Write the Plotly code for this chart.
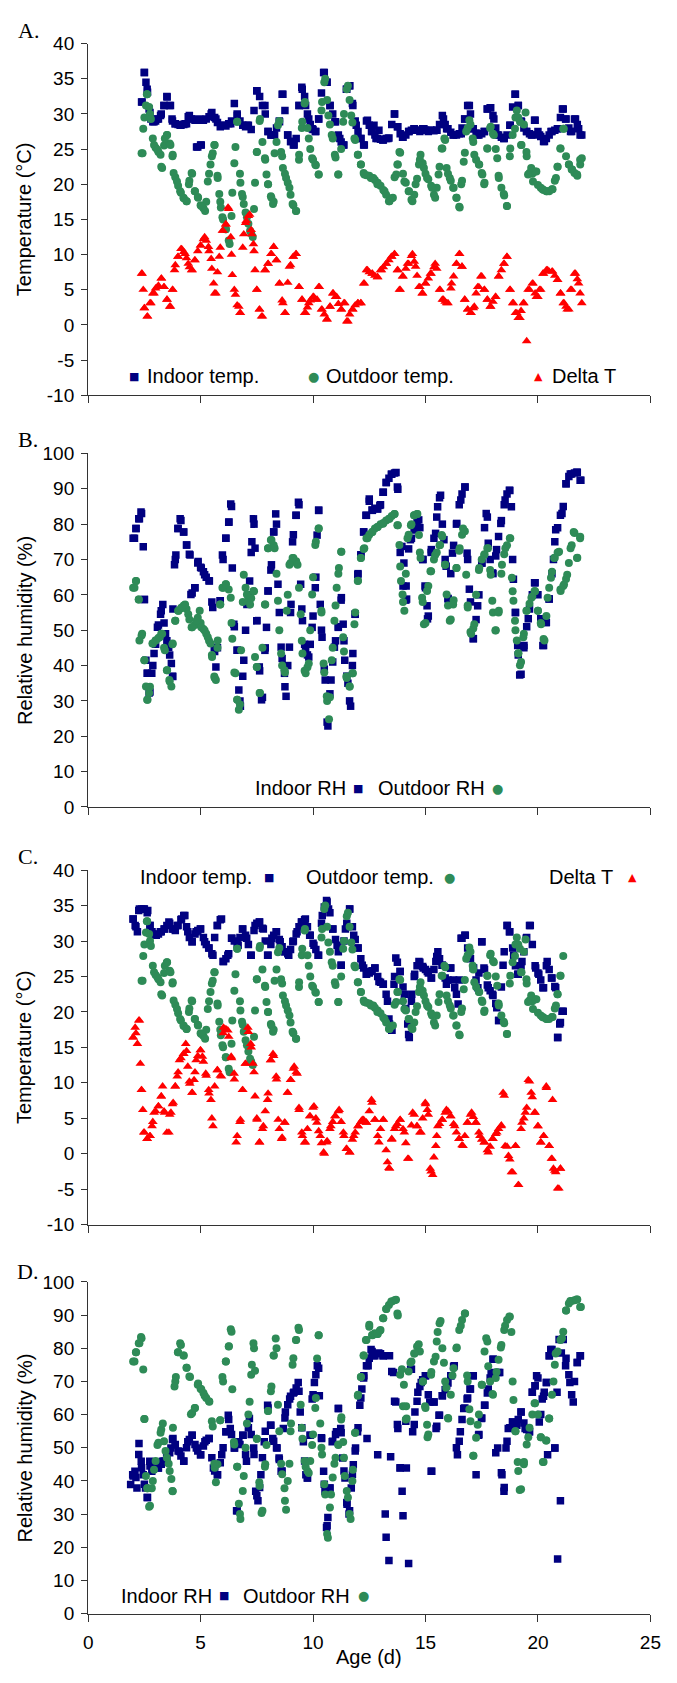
import plotly.graph_objects as go

# ---------------- data ----------------
# regular readings: one every 3 h, day 2.0 ... day 21.875 (8 per day)
age = [2 + i / 8 for i in range(160)]

x_ticks = [0, 5, 10, 15, 20, 25]
x_ticklabels = ["0", "5", "10", "15", "20", "25"]
temp_ticks = [-10, -5, 0, 5, 10, 15, 20, 25, 30, 35, 40]
temp_ticklabels = ["-10", "-5", "0", "5", "10", "15", "20", "25", "30", "35", "40"]
rh_ticks = [0, 10, 20, 30, 40, 50, 60, 70, 80, 90, 100]
rh_ticklabels = ["0", "10", "20", "30", "40", "50", "60", "70", "80", "90", "100"]

N = None

# outdoor temperature (same outdoor series in panels A and C)
outdoor_temp = [
    N, N, N, 24.4, 29.5, 32.8, 30.0, 26.5,
    25.2, 24.6, 22.5, 25.5, 27.0, 25.8, 24.0, 21.0,
    19.8, 18.8, 18.0, 17.6, 20.5, 21.5, 19.0, 18.2,
    17.0, 16.6, 17.5, 21.5, 24.0, 25.6, 21.2, 17.5,
    15.0, 13.6, 12.0, 15.5, 23.0, 28.9, 21.5, 18.2,
    16.0, 14.4, 13.0, 16.5, 24.6, 29.0, 26.0, 23.5,
    20.0, 18.3, 17.5, 26.0, 29.0, 24.0, 21.5, 20.2,
    18.5, 17.0, 16.2, 23.5, 28.0, 31.5, 28.0, 25.0,
    23.5, 22.7, 21.4, 30.5, 34.5, 32.0, 28.5, 26.5,
    23.8, 21.4, 25.0, 30.0, 33.5, 32.0, 28.8, 26.3,
    24.2, 22.8, 21.6, 21.3, 21.2, 20.9, 20.6, 20.2,
    19.8, 19.2, 18.5, 17.6, 18.0, 21.0, 22.8, 24.5,
    21.5, 20.2, 19.0, 17.8, 18.5, 20.8, 23.5, 23.0,
    21.5, 20.7, 19.8, 18.5, 19.5, 22.5, 25.1, 26.3,
    21.5, 20.5, 19.5, 18.1, 16.8, 20.5, 24.5, 28.0,
    28.5, 26.0, 23.5, 22.8, 21.6, 20.2, 25.1, 28.0,
    27.2, 25.0, 21.2, 19.5, 18.4, 16.9, 24.0, 27.0,
    29.5, 29.5, 25.6, 28.5, 24.0, 21.6, 21.5, 21.8,
    19.9, 19.5, 19.2, 19.0, 19.0, 19.3, 20.5, 22.5,
    25.1, 27.9, 24.0, 22.8, 22.1, 21.6, 21.2, 23.5,
]

# panel A indoor temperature
indoor_temp_a = [
    N, N, N, 31.7, 35.9, 33.5, 30.2, 28.9,
    29.0, 29.3, 30.0, 31.2, 32.5, 31.2, 29.0, 28.6,
    28.5, 28.4, 28.5, 28.6, 29.8, 29.3, 29.1, 25.3,
    25.6, 29.1, 29.3, 29.6, 30.2, 29.5, 28.8, 28.2,
    28.4, 28.3, 28.6, 29.0, 31.5, 30.0, 29.0, 28.4,
    28.2, 28.4, 27.8, 30.5, 33.3, 32.5, 31.2, 30.0,
    27.5, 27.0, 27.0, 28.0, 29.0, 32.8, 30.5, 27.0,
    26.1, 25.6, 26.5, 31.2, 33.8, 32.5, 30.0, 28.5,
    27.8, 27.5, 29.3, 33.0, 35.9, 34.5, 31.2, 30.0,
    28.9, 27.0, 26.0, 25.6, 33.5, 34.0, 31.5, 29.0,
    27.5, 26.5, 25.6, 29.0, 28.4, 27.5, 27.0, 26.5,
    26.4, 26.3, 26.5, 26.6, 28.5, 30.0, 28.2, 27.2,
    26.7, 27.0, 27.5, 27.7, 27.9, 27.7, 27.5, 27.9,
    27.7, 27.5, 27.7, 27.6, 27.7, 28.5, 29.8, 28.5,
    27.9, 27.4, 27.0, 27.0, 27.2, 28.0, 29.3, 31.2,
    30.0, 27.9, 27.3, 27.0, 27.2, 27.5, 30.7, 30.9,
    29.8, 28.0, 27.0, 26.7, 26.5, 27.0, 28.4, 31.0,
    32.8, 31.2, 29.0, 28.0, 27.5, 27.2, 27.0, 29.1,
    27.5, 26.8, 26.1, 26.5, 27.0, 27.5, 27.7, 27.9,
    29.5, 30.7, 29.3, 28.0, 27.5, 29.3, 28.5, 27.0,
]

# panel A delta T
delta_t_a = [
    N, N, N, 7.3, 2.4, 1.2, 3.1, 4.5,
    5.2, 5.6, 6.6, 5.4, 3.6, 2.6, 5.0, 8.5,
    9.7, 10.8, 10.4, 9.5, 8.2, 7.8, 9.2, 10.5,
    11.3, 12.2, 12.0, 10.5, 8.0, 4.5, 7.5, 11.0,
    13.4, 14.3, 16.5, 10.0, 5.0, 2.8, 1.7, 11.0,
    14.5, 15.5, 13.5, 10.5, 5.0, 2.2, 1.2, 7.8,
    8.7, 10.1, 11.1, 9.2, 5.9, 3.5, 1.7, 6.0,
    8.5, 9.7, 10.1, 5.4, 3.6, 1.7, 2.5, 3.5,
    4.0, 3.6, 5.4, 2.2, 1.5, 0.8, 2.6, 4.5,
    4.0, 3.0, 2.2, 3.1, 0.5, 1.5, 2.2, 2.8,
    3.1, 3.1, 5.9, 7.8, 7.5, 7.3, 7.0, 6.8,
    7.8, 8.2, 8.7, 9.2, 9.7, 10.1, 7.8, 5.0,
    6.9, 8.0, 8.7, 9.8, 9.0, 7.0, 5.4, 4.5,
    5.9, 6.6, 7.3, 8.2, 8.0, 5.0, 3.6, 3.3,
    3.1, 5.2, 6.9, 8.7, 10.1, 8.3, 3.6, 2.2,
    1.7, 2.4, 4.5, 5.4, 6.9, 5.0, 3.6, 2.6,
    3.3, 4.0, 6.9, 7.8, 8.7, 9.7, 5.0, 3.1,
    1.7, 1.0, 2.0, 3.1, -2.3, 5.0, 5.9, 4.5,
    4.0, 5.0, 7.3, 7.8, 7.6, 7.6, 7.0, 6.4,
    4.5, 3.1, 2.6, 2.2, 5.0, 7.3, 6.5, 4.5,
]

# panel B blue series (labelled "Indoor RH"; same values as panel D outdoor RH)
rh_b_blue = [
    76.0, 78.8, 81.5, 83.0, 58.7, 37.8, 32.5, 40.0,
    46.0, 51.5, 55.5, 52.0, 47.0, 43.0, 37.0, 70.0,
    78.8, 81.0, 77.8, 74.1, 71.5, 60.5, 62.0, 69.0,
    67.8, 66.5, 65.0, 64.0, 58.0, 44.0, 45.0, 58.3,
    70.0, 76.0, 80.5, 85.0, 51.0, 44.3, 30.0, 37.0,
    50.0, 60.0, 72.0, 80.0, 52.7, 38.5, 31.0, 45.0,
    61.1, 67.0, 77.8, 80.0, 55.0, 42.0, 34.0, 40.0,
    55.0, 77.0, 82.5, 85.5, 56.0, 46.0, 43.0, 46.0,
    54.0, 65.0, 83.9, 50.0, 39.0, 24.0, 32.0, 41.0,
    47.0, 51.0, 58.5, 47.0, 37.0, 30.0, 40.0, 54.5,
    66.0, 71.3, 77.8, 82.5, 86.5, 84.0, 84.5, 84.3,
    85.5, 89.0, 91.8, 93.0, 94.1, 94.5, 90.5, 72.0,
    62.5, 58.5, 73.0, 76.0, 78.4, 80.5, 79.0, 70.0,
    62.0, 54.0, 72.0, 76.0, 82.0, 87.5, 80.0, 70.0,
    59.0, 66.0, 74.0, 80.0, 85.5, 88.5, 90.5, 70.0,
    58.0, 47.6, 53.0, 60.0, 69.0, 79.0, 82.0, 70.0,
    66.0, 71.0, 76.5, 81.0, 85.5, 88.5, 89.5, 70.0,
    55.0, 43.0, 37.5, 45.0, 51.0, 56.0, 60.0, 63.4,
    60.0, 53.2, 45.7, 52.2, 58.8, 66.0, 75.0, 79.0,
    82.5, 85.0, 91.4, 93.5, 94.2, 94.5, 94.7, 92.4,
]

# panel B green series (labelled "Outdoor RH")
rh_b_green = [
    62.0, 63.9, 58.7, 48.5, 41.5, 30.3, 34.0, 46.2,
    47.1, 47.8, 49.0, 45.0, 38.7, 35.5, 46.0, 52.7,
    55.5, 56.2, 57.0, 56.0, 53.0, 50.8, 51.5, 53.5,
    52.0, 50.3, 49.0, 47.0, 43.0, 36.5, 45.0, 57.3,
    62.0, 63.0, 61.5, 52.0, 38.0, 30.3, 29.0, 58.0,
    62.0, 58.5, 59.0, 61.0, 39.6, 32.2, 45.0, 57.3,
    73.2, 75.5, 74.0, 66.0, 50.0, 40.0, 38.0, 60.0,
    69.0, 70.4, 69.5, 62.0, 47.0, 38.5, 39.5, 50.0,
    65.0, 75.0, 78.8, 55.0, 38.0, 30.0, 31.0, 45.0,
    57.0, 66.0, 72.2, 44.0, 36.5, 34.1, 37.8, 55.0,
    64.0, 70.4, 73.0, 76.0, 77.0, 77.8, 78.8, 79.2,
    80.0, 80.3, 81.0, 81.5, 82.3, 82.9, 79.7, 68.0,
    58.0, 66.0, 77.0, 80.0, 82.5, 82.9, 72.0, 58.0,
    52.0, 62.5, 66.7, 70.0, 72.0, 74.0, 76.5, 68.5,
    57.0, 53.0, 58.5, 67.6, 72.5, 77.0, 78.0, 57.0,
    49.5, 50.5, 60.0, 67.0, 70.0, 71.5, 73.2, 67.0,
    55.0, 50.0, 55.0, 66.0, 71.5, 74.0, 76.0, 61.0,
    50.0, 43.5, 41.0, 49.0, 55.5, 57.5, 59.5, 61.0,
    55.5, 52.0, 47.5, 54.0, 62.0, 66.5, 70.5, 72.0,
    61.5, 62.5, 64.5, 69.0, 74.0, 77.5, 70.5, 76.0,
]

# panel C indoor temperature
indoor_temp_c = [
    33.1, 32.0, 34.3, 34.5, 34.5, 34.0, 32.2, 31.0,
    30.8, 31.0, 31.3, 31.7, 32.2, 32.5, 31.7, 31.5,
    32.2, 33.0, 33.6, 32.0, 30.5, 29.9, 31.0, 31.5,
    31.7, 30.5, 29.5, 29.0, 28.2, 30.5, 32.2, 33.0,
    27.1, 27.5, 28.2, 30.4, 30.0, 29.5, 30.5, 31.7,
    30.8, 29.5, 28.0, 31.5, 32.5, 32.7, 31.8, 30.0,
    28.0, 29.5, 30.8, 31.3, 30.2, 29.2, 28.5, 28.2,
    28.8, 30.0, 31.0, 32.0, 32.7, 33.0, 32.0, 30.8,
    29.7, 28.8, 28.0, 32.5, 34.8, 35.5, 34.0, 31.7,
    30.2, 28.5, 26.6, 30.0, 32.5, 34.5, 32.0, 30.2,
    29.0, 27.5, 26.2, 25.3, 25.5, 25.8, 26.2, 25.0,
    24.2, 23.9, 22.5, 19.0, 17.4, 25.0, 27.0, 25.7,
    23.5, 20.5, 16.8, 21.5, 25.0, 26.5, 27.0, 26.4,
    26.0, 25.5, 24.8, 26.0, 27.8, 27.5, 26.6, 24.8,
    24.5, 26.2, 24.5, 22.5, 24.5, 30.4, 30.8, 29.0,
    27.5, 26.2, 24.5, 25.5, 29.9, 26.0, 23.8, 23.0,
    22.3, 21.2, 18.8, 23.5, 28.5, 32.2, 31.3, 29.0,
    26.5, 25.3, 26.5, 28.5, 30.5, 32.2, 29.5, 26.5,
    25.5, 24.5, 23.4, 26.5, 26.0, 24.8, 23.6, 16.4,
    18.5, 20.1, N, N, N, N, N, N,
]

# panel C delta T
delta_t_c = [
    16.4, 17.0, 18.8, 9.0, 3.0, 2.1, 2.5, 4.5,
    6.0, 6.7, 8.1, 6.0, 3.0, 5.5, 7.0, 9.5,
    11.5, 13.5, 14.1, 14.5, 10.2, 8.6, 11.5, 13.8,
    14.6, 13.0, 11.0, 8.5, 5.0, 9.5, 11.8, 11.0,
    17.0, 17.6, 16.5, 13.5, 10.5, 2.5, 4.5, 9.0,
    12.7, 17.2, 15.0, 11.5, 5.0, 1.6, 3.5, 6.0,
    8.5, 13.2, 13.8, 10.5, 3.5, 2.3, 4.4, 8.6,
    10.4, 12.0, 11.5, 6.5, 3.0, 1.6, 3.5, 5.3,
    6.5, 5.0, 3.2, 1.5, 0.0, 1.8, 3.5, 4.5,
    5.3, 6.0, 4.5, 2.5, 0.7, 0.2, 2.0, 3.0,
    3.9, 4.5, 4.8, 4.4, 6.0, 7.2, 4.8, 2.5,
    3.5, 4.8, 0.5, -2.0, 2.0, 3.5, 4.2, 4.8,
    3.5, 1.5, -0.7, 4.0, 5.5, 3.9, 3.0, 5.0,
    7.0, 5.5, -2.5, -0.5, 2.5, 4.2, 4.8, 5.8,
    6.0, 5.3, 4.2, 3.0, 2.1, 1.2, 2.5, 4.4,
    5.5, 5.2, 4.4, 3.0, 2.0, 1.6, 0.5, 1.0,
    2.1, 2.8, 3.5, 4.0, 8.2, 1.0, -0.8, -2.6,
    1.1, -4.4, 3.5, 5.0, 6.5, 10.2, 8.0, 5.8,
    3.9, 1.6, 2.5, 9.3, 1.1, -0.7, -2.4, -4.9,
    -2.1, N, N, N, N, N, N, N,
]

# panel D indoor RH
indoor_rh_d = [
    41.5, 41.0, 48.0, 44.0, 39.0, 35.0, 44.5, 43.5,
    44.5, 43.9, 45.0, 46.0, 47.0, 48.5, 52.5, 51.0,
    49.0, 47.5, 46.0, 50.0, 52.5, 53.8, 51.0, 49.0,
    47.9, 50.5, 52.3, 52.8, 47.0, 43.0, 41.9, 45.5,
    50.0, 54.8, 58.5, 54.0, 49.9, 31.0, 51.0, 53.8,
    48.0, 56.0, 54.0, 48.0, 35.5, 38.0, 47.0, 55.0,
    62.0, 56.8, 52.0, 50.0, 46.5, 43.0, 59.0, 63.0,
    65.5, 66.5, 68.0, 67.0, 56.0, 46.0, 40.9, 53.8,
    66.0, 72.0, 74.0, 53.0, 39.0, 26.5, 37.9, 52.0,
    54.0, 61.8, 54.5, 43.0, 33.5, 31.0, 42.0, 49.0,
    56.0, 65.0, 71.0, 74.7, 77.0, 79.0, 77.7, 47.9,
    78.3, 77.7, 23.0, 16.0, 73.0, 64.0, 57.0, 44.0,
    29.5, 58.0, 15.1, 73.7, 57.0, 64.0, 68.5, 70.5,
    71.7, 66.0, 42.9, 63.8, 56.5, 59.8, 65.7, 67.5,
    69.5, 71.7, 74.5, 50.0, 52.0, 58.5, 62.0, 65.0,
    67.7, 71.7, 41.9, 54.0, 59.0, 62.8, 66.5, 71.0,
    76.7, 48.5, 72.7, 42.5, 38.0, 52.0, 56.0, 57.8,
    57.0, 58.5, 60.8, 57.5, 55.5, 54.8, 66.7, 68.7,
    71.0, 60.0, 65.5, 69.7, 77.7, 79.6, 49.9, 16.5,
    34.0, 82.6, 77.0, 72.0, 66.0, 70.0, 75.7, 77.7,
]

# ---- additional individual readings (age, value) between the 3-hourly ones ----
outdoor_temp_more = [
    (2.42, 24.4), (2.45, 27.9), (2.57, 31.2), (2.61, 32.8), (2.71, 31.0), (2.79, 29.3),
    (2.93, 25.6), (3.08, 24.9), (3.22, 24.2), (3.29, 22.3), (3.41, 26.5), (3.51, 27.0),
    (3.66, 25.6), (3.76, 24.2), (3.80, 21.6), (3.95, 20.4), (4.09, 19.0), (4.24, 18.1),
    (4.38, 17.6), (4.48, 20.0), (4.60, 21.6), (4.74, 19.0), (4.89, 18.1), (5.03, 16.9),
    (5.20, 16.2), (5.32, 20.4), (5.44, 22.8), (5.54, 24.4), (5.61, 25.6), (5.76, 20.9),
    (5.83, 18.6), (5.90, 16.7), (5.97, 15.3), (6.12, 13.6), (6.29, 11.5), (6.41, 18.8),
    (6.55, 25.3), (6.63, 28.9), (6.77, 20.2), (6.84, 18.6), (6.92, 17.2), (7.06, 15.3),
    (7.20, 13.4), (7.32, 12.5), (7.42, 20.2), (7.50, 24.6), (7.64, 29.3), (7.86, 23.7),
    (7.93, 21.4), (8.00, 20.0), (8.15, 18.1), (8.22, 17.2), (8.29, 24.4), (8.44, 28.4),
    (8.58, 24.6), (8.66, 22.3), (8.80, 20.9), (8.95, 19.5), (9.09, 17.2), (9.24, 16.2),
    (9.38, 24.2), (9.52, 28.9), (9.64, 31.7), (9.81, 26.5), (9.96, 23.7), (10.10, 22.8),
    (10.25, 21.4), (10.40, 31.7), (10.54, 35.0), (10.68, 29.8), (10.83, 27.0), (10.97, 24.2),
    (11.12, 21.4), (11.34, 28.9), (11.55, 34.0), (11.70, 29.8), (11.84, 26.5), (11.99, 24.2),
    (12.13, 22.8), (12.28, 21.4), (12.57, 20.9), (12.86, 20.0), (12.68, 20.9), (13.18, 19.0),
    (13.40, 17.6), (13.55, 18.1), (13.70, 21.4), (13.77, 22.8), (13.84, 24.6), (14.06, 20.4),
    (14.27, 19.0), (14.42, 17.6), (14.56, 20.0), (14.71, 22.8), (14.78, 24.2), (14.93, 22.3),
    (15.07, 20.9), (15.29, 19.5), (15.43, 18.1), (15.58, 21.4), (15.72, 25.1), (15.84, 26.5),
    (15.94, 22.3), (16.08, 20.9), (16.23, 19.5), (16.38, 18.1), (16.52, 16.7), (16.59, 20.0),
    (16.70, 23.2), (16.81, 27.5), (16.95, 29.1), (17.10, 26.5), (17.17, 24.2), (17.39, 22.8),
    (17.53, 21.4), (17.61, 20.0), (17.75, 25.1), (17.90, 28.2), (18.04, 27.0), (18.19, 23.7),
    (18.26, 20.9), (18.48, 18.6), (18.62, 16.9), (18.77, 25.1), (18.98, 27.9), (19.06, 30.5),
    (19.20, 28.9), (19.27, 25.6), (19.45, 30.2), (19.49, 24.6), (19.56, 21.4), (19.70, 22.3),
    (19.78, 20.4), (19.93, 21.8), (20.20, 19.3), (20.40, 19.0), (20.65, 19.3), (20.80, 20.9),
    (20.87, 22.5), (21.00, 25.1), (21.15, 27.9), (21.38, 22.8), (21.52, 22.1), (21.74, 21.4),
    (21.88, 22.8), (21.95, 23.7),
]

indoor_temp_a_more = [
    (2.40, 31.7), (2.50, 35.9), (2.57, 34.5), (2.64, 33.1), (2.71, 30.7), (2.79, 29.3),
    (2.93, 28.9), (3.08, 29.3), (3.22, 29.8), (3.37, 31.2), (3.51, 32.4), (3.66, 31.2),
    (3.73, 29.3), (3.87, 28.6), (4.09, 28.4), (4.31, 28.6), (4.45, 29.6), (4.60, 29.3),
    (4.82, 29.1), (4.96, 29.3), (5.10, 29.1), (5.47, 30.0), (5.68, 29.3), (4.82, 25.3),
    (5.03, 25.6), (6.05, 28.4), (6.34, 28.6), (6.63, 29.8), (7.06, 28.4), (7.50, 33.3),
    (7.86, 31.2), (8.00, 27.5), (8.15, 27.0), (8.29, 27.0), (8.51, 28.9), (8.66, 32.8),
    (8.87, 27.0), (9.02, 26.1), (9.16, 25.6), (9.38, 31.2), (9.52, 33.5), (9.67, 31.2),
    (9.81, 29.3), (9.96, 27.9), (10.10, 27.5), (10.25, 29.3), (10.47, 35.9), (10.61, 34.5),
    (10.76, 31.2), (10.97, 28.9), (11.19, 26.5), (11.34, 25.6), (11.48, 33.5), (11.63, 34.0),
    (11.77, 31.2), (11.92, 28.4), (12.13, 26.5), (12.28, 25.6), (12.42, 29.1), (12.71, 28.4),
    (12.93, 27.7), (12.60, 27.5), (12.80, 26.5), (13.10, 26.3), (13.33, 26.5), (13.62, 30.0),
    (13.77, 28.2), (13.98, 26.7), (14.27, 27.5), (14.49, 27.9), (14.64, 27.7), (14.93, 27.9),
    (15.22, 27.7), (15.50, 27.7), (15.80, 29.3), (15.94, 27.9), (16.23, 27.0), (16.59, 27.2),
    (16.74, 29.3), (16.95, 31.2), (17.10, 27.9), (17.32, 27.0), (17.61, 27.5), (17.75, 30.7),
    (17.90, 30.9), (18.04, 29.3), (18.19, 27.0), (18.48, 26.5), (18.77, 28.4), (18.98, 32.8),
    (19.13, 31.2), (19.27, 28.9), (19.49, 27.5), (19.71, 27.0), (19.85, 29.1), (20.07, 27.0),
    (20.29, 26.1), (20.58, 27.5), (20.87, 27.9), (21.09, 30.7), (21.23, 29.3), (21.45, 27.5),
    (21.67, 29.3), (21.81, 27.9), (21.95, 27.0),
]

delta_t_a_more = [
    (2.40, 7.3), (2.45, 5.0), (2.50, 2.4), (2.64, 1.2), (2.79, 3.1), (2.93, 4.5),
    (3.08, 5.4), (3.26, 6.6), (3.37, 5.4), (3.51, 3.6), (3.66, 2.6), (3.76, 5.0),
    (3.84, 7.8), (3.99, 9.7), (4.16, 10.8), (4.31, 10.1), (4.45, 8.7), (4.60, 7.8),
    (4.74, 9.2), (5.00, 11.3), (5.18, 12.5), (5.35, 11.1), (5.47, 9.4), (5.58, 5.9),
    (5.68, 4.5), (5.83, 9.7), (5.97, 13.4), (6.12, 14.3), (6.22, 16.7), (6.34, 12.5),
    (6.41, 7.1), (6.55, 4.3), (6.70, 2.6), (6.77, 1.7), (6.92, 12.9), (7.03, 14.8),
    (7.18, 15.7), (7.28, 12.9), (7.35, 11.5), (7.42, 7.8), (7.50, 5.0), (7.61, 2.2),
    (7.71, 1.2), (7.86, 7.8), (8.00, 8.7), (8.15, 10.1), (8.25, 11.1), (8.37, 9.2),
    (8.51, 5.9), (8.66, 3.1), (8.76, 1.7), (8.95, 8.3), (9.12, 9.7), (9.24, 10.1),
    (9.38, 5.4), (9.52, 3.6), (9.67, 1.7), (9.81, 3.1), (10.03, 4.0), (10.18, 3.6),
    (10.28, 5.4), (10.40, 2.2), (10.61, 0.8), (10.76, 2.6), (10.90, 4.5), (11.05, 4.0),
    (11.26, 2.2), (11.41, 3.1), (11.55, 0.5), (11.77, 2.2), (11.99, 3.1), (12.13, 3.1),
    (12.28, 5.9), (12.42, 7.8), (12.64, 7.3), (12.86, 6.8), (13.04, 7.8), (13.26, 8.7),
    (13.48, 9.7), (13.62, 10.1), (13.77, 7.8), (13.84, 5.0), (13.98, 6.9), (14.20, 8.7),
    (14.42, 10.1), (14.56, 8.3), (14.71, 5.4), (14.85, 4.5), (15.00, 5.9), (15.22, 7.3),
    (15.43, 8.7), (15.65, 5.0), (15.80, 3.6), (15.94, 3.1), (16.16, 5.9), (16.38, 8.7),
    (16.52, 10.1), (16.62, 8.3), (16.74, 3.6), (16.88, 2.2), (17.03, 1.7), (17.17, 2.6),
    (17.32, 5.4), (17.46, 6.9), (17.61, 5.0), (17.75, 3.6), (17.90, 2.6), (18.11, 4.0),
    (18.26, 6.9), (18.48, 8.7), (18.62, 9.7), (18.77, 5.0), (18.91, 3.1), (19.06, 1.7),
    (19.20, 1.0), (19.35, 3.1), (19.56, 5.0), (19.78, 5.9), (19.93, 4.0), (20.07, 5.0),
    (20.22, 7.3), (20.43, 7.8), (20.65, 7.6), (20.87, 6.4), (21.01, 4.5), (21.16, 3.1),
    (21.30, 2.2), (21.45, 5.0), (21.67, 7.3), (21.81, 5.9), (21.95, 3.1),
]

rh_b_blue_more = [
    (2.06, 76.0), (2.13, 78.8), (2.28, 81.5), (2.35, 83.4), (2.45, 73.6), (2.50, 58.7),
    (2.57, 41.5), (2.64, 37.8), (2.71, 32.2), (2.83, 37.8), (2.93, 43.4), (3.08, 50.8),
    (3.22, 54.5), (3.32, 57.3), (3.44, 49.0), (3.58, 45.2), (3.70, 40.6), (3.76, 36.9),
    (3.77, 56.0), (3.84, 68.5), (3.90, 71.3), (3.99, 78.8), (4.09, 81.5), (4.24, 77.8),
    (4.38, 74.1), (4.53, 71.3), (4.57, 60.1), (4.74, 62.0), (4.89, 69.4), (5.03, 67.6),
    (5.18, 65.7), (5.39, 63.9), (5.54, 56.4), (5.61, 45.2), (5.68, 39.6), (5.87, 58.3),
    (5.97, 71.3), (6.12, 76.0), (6.26, 80.6), (6.34, 85.7), (6.41, 67.6), (6.48, 51.7),
    (6.63, 44.3), (6.70, 33.1), (6.77, 28.5), (6.92, 41.5), (7.06, 57.3), (7.18, 63.9),
    (7.28, 75.0), (7.35, 81.5), (7.42, 73.2), (7.50, 52.7), (7.61, 39.6), (7.71, 30.3),
    (7.86, 44.3), (7.93, 50.8), (8.00, 61.1), (8.15, 68.5), (8.25, 77.8), (8.34, 82.9),
    (8.44, 63.0), (8.58, 45.2), (8.73, 37.8), (8.80, 31.3), (8.95, 45.2), (9.02, 57.3),
    (9.09, 75.0), (9.24, 82.5), (9.35, 86.2), (9.45, 63.0), (9.53, 52.7), (9.67, 44.3),
    (9.81, 42.4), (9.96, 50.8), (10.10, 62.0), (10.18, 76.9), (10.25, 83.9), (10.32, 57.3),
    (10.40, 48.0), (10.54, 35.9), (10.66, 22.9), (10.80, 35.9), (10.95, 45.2), (11.12, 50.8),
    (11.26, 59.2), (11.34, 51.7), (11.41, 41.5), (11.55, 35.0), (11.67, 28.5), (11.77, 43.4),
    (11.87, 54.5), (11.99, 65.7), (12.13, 71.3), (12.25, 77.8), (12.35, 82.5), (12.50, 87.1),
    (12.64, 83.9), (12.86, 84.3), (12.97, 85.3), (13.11, 89.0), (13.26, 91.8), (13.48, 94.1),
    (13.69, 94.6), (13.77, 89.9), (13.95, 73.7), (14.04, 69.0), (14.14, 62.5), (14.16, 58.8),
    (14.33, 75.6), (14.51, 78.4), (14.70, 81.2), (14.89, 70.0), (14.98, 62.5), (15.07, 56.9),
    (15.09, 53.2), (15.26, 72.8), (15.45, 77.4), (15.54, 84.9), (15.67, 88.2), (15.82, 75.6),
    (15.92, 68.1), (16.01, 58.8), (16.20, 71.8), (16.39, 80.2), (16.57, 86.8), (16.76, 90.5),
    (16.85, 71.8), (16.95, 61.6), (17.13, 47.6), (17.32, 56.9), (17.51, 69.0), (17.70, 83.0),
    (17.79, 74.6), (17.98, 66.2), (18.16, 72.8), (18.35, 80.2), (18.54, 86.8), (18.73, 89.6),
    (18.82, 84.9), (18.91, 64.4), (19.00, 55.0), (19.10, 45.7), (19.19, 37.3), (19.38, 45.7),
    (19.57, 53.2), (19.85, 63.4), (20.13, 53.2), (20.22, 45.7), (20.36, 52.2), (20.50, 58.8),
    (20.69, 70.0), (20.79, 78.4), (21.07, 83.0), (21.25, 91.4), (21.44, 94.2), (21.72, 94.7),
    (21.91, 92.4),
]

rh_b_green_more = [
    (2.06, 62.0), (2.13, 63.9), (2.25, 58.7), (2.28, 47.1), (2.40, 49.0), (2.50, 41.5),
    (2.57, 34.1), (2.64, 30.3), (2.71, 32.2), (2.86, 46.2), (3.00, 47.1), (3.18, 48.0),
    (3.29, 49.0), (3.41, 44.3), (3.51, 38.7), (3.61, 35.9), (3.70, 34.1), (3.76, 46.2),
    (3.87, 52.7), (4.02, 55.5), (4.16, 56.4), (4.31, 57.3), (4.45, 54.5), (4.60, 50.8),
    (4.82, 52.7), (4.96, 55.5), (5.03, 50.8), (5.18, 49.9), (5.32, 48.0), (5.44, 46.2),
    (5.51, 42.4), (5.61, 36.9), (5.68, 35.9), (5.76, 47.1), (5.87, 57.3), (5.97, 62.0),
    (6.12, 63.0), (6.34, 59.2), (6.41, 47.6), (6.55, 37.8), (6.63, 30.3), (6.70, 27.5),
    (6.80, 44.3), (6.92, 65.7), (7.06, 60.1), (7.20, 57.3), (7.35, 61.1), (7.42, 42.4),
    (7.50, 39.6), (7.64, 32.2), (7.86, 57.3), (8.00, 73.2), (8.15, 75.5), (8.29, 73.2),
    (8.44, 58.3), (8.58, 43.4), (8.73, 38.7), (8.83, 55.5), (8.95, 68.5), (9.09, 70.4),
    (9.31, 68.5), (9.45, 54.5), (9.53, 43.4), (9.67, 37.8), (9.81, 40.6), (9.96, 60.1),
    (10.10, 74.1), (10.25, 78.8), (10.37, 55.5), (10.47, 40.6), (10.61, 31.3), (10.71, 24.8),
    (10.83, 41.5), (10.95, 52.7), (11.05, 62.0), (11.15, 67.6), (11.26, 72.2), (11.34, 48.0),
    (11.48, 36.9), (11.63, 34.1), (11.77, 37.8), (11.84, 51.7), (11.99, 63.9), (12.13, 70.4),
    (12.28, 73.2), (12.42, 76.0), (12.64, 77.8), (12.86, 79.2), (13.11, 80.1), (13.40, 81.5),
    (13.62, 82.9), (13.77, 79.7), (13.84, 74.1), (13.91, 63.9), (13.98, 60.1), (14.06, 55.5),
    (14.20, 76.0), (14.35, 79.7), (14.49, 82.5), (14.64, 82.9), (14.71, 76.9), (14.78, 70.4),
    (14.85, 59.2), (14.93, 51.7), (15.07, 61.1), (15.22, 66.7), (15.43, 71.3), (15.65, 74.1),
    (15.72, 76.9), (15.87, 68.5), (15.94, 60.1), (16.08, 52.7), (16.23, 57.3), (16.38, 67.6),
    (16.52, 73.2), (16.67, 78.8), (16.81, 65.7), (16.88, 56.4), (17.03, 49.0), (17.17, 51.7),
    (17.39, 67.6), (17.61, 71.3), (17.78, 73.2), (17.90, 65.7), (17.97, 58.3), (18.11, 49.9),
    (18.26, 55.5), (18.40, 68.5), (18.55, 73.2), (18.77, 76.0), (18.84, 64.8), (18.91, 58.3),
    (18.98, 52.7), (19.06, 47.1), (19.13, 43.4), (19.20, 40.1), (19.35, 48.0), (19.49, 55.5),
    (19.71, 59.2), (19.85, 61.1), (20.00, 55.5), (20.14, 51.7), (20.29, 47.1), (20.43, 59.2),
    (20.58, 64.8), (20.72, 70.4), (20.94, 72.2), (21.01, 61.1), (21.16, 62.9), (21.30, 65.7),
    (21.45, 73.2), (21.59, 77.8), (21.74, 70.4), (21.88, 76.4),
]

indoor_temp_c_more = [
    (2.00, 33.1), (2.09, 32.2), (2.19, 31.3), (2.28, 34.5), (2.47, 34.5), (2.65, 34.3),
    (2.75, 32.2), (2.84, 31.3), (3.03, 30.8), (3.21, 31.3), (3.40, 31.7), (3.59, 32.7),
    (3.78, 31.7), (3.96, 32.2), (4.15, 33.1), (4.30, 33.6), (4.43, 31.3), (4.62, 29.9),
    (4.80, 31.3), (4.99, 31.7), (5.18, 29.9), (5.36, 29.0), (5.55, 28.0), (5.74, 32.2),
    (5.93, 33.1), (6.02, 27.1), (6.21, 28.0), (6.39, 30.4), (6.67, 29.4), (6.86, 31.7),
    (7.05, 30.4), (7.23, 28.0), (7.42, 32.2), (7.61, 32.7), (7.79, 31.7), (7.98, 28.0),
    (8.17, 30.4), (8.36, 31.3), (8.54, 29.9), (8.73, 28.5), (8.92, 28.0), (9.10, 29.9),
    (9.29, 31.3), (9.48, 32.7), (9.66, 33.1), (9.85, 30.8), (10.04, 29.4), (10.22, 28.0),
    (10.41, 33.6), (10.60, 35.7), (10.69, 34.5), (10.88, 31.7), (11.07, 29.4), (11.25, 26.6),
    (11.44, 31.7), (11.63, 34.5), (11.81, 30.8), (12.00, 29.0), (12.19, 26.6), (12.37, 25.3),
    (12.56, 25.7), (12.75, 26.2), (12.93, 24.3), (13.12, 23.9), (13.31, 21.5), (13.40, 18.3),
    (13.50, 17.4), (13.60, 23.9), (13.68, 27.6), (13.87, 25.7), (14.06, 22.5), (14.21, 18.3),
    (14.28, 16.4), (14.39, 22.5), (14.52, 25.3), (14.71, 27.1), (14.90, 26.2), (15.08, 25.7),
    (15.27, 24.8), (15.46, 27.1), (15.55, 28.5), (15.74, 26.6), (15.93, 23.9), (16.11, 26.2),
    (16.30, 23.4), (16.45, 21.1), (16.58, 30.4), (16.77, 30.8), (16.95, 28.0), (17.14, 26.2),
    (17.33, 23.4), (17.51, 29.9), (17.60, 26.2), (17.79, 23.4), (17.98, 22.5), (18.17, 20.6),
    (18.26, 18.8), (18.45, 26.6), (18.64, 32.2), (18.73, 31.3), (18.92, 28.0), (19.10, 25.3),
    (19.29, 27.1), (19.48, 30.4), (19.66, 32.2), (19.90, 26.2), (20.04, 25.3), (20.22, 23.4),
    (20.41, 27.1), (20.60, 24.8), (20.79, 23.4), (20.88, 16.4), (20.97, 18.3), (21.07, 20.1),
]

delta_t_c_more = [
    (2.00, 16.4), (2.09, 17.8), (2.19, 15.5), (2.28, 18.8), (2.32, 12.7), (2.37, 9.0),
    (2.43, 6.2), (2.47, 3.0), (2.62, 2.1), (2.75, 2.5), (2.84, 3.9), (2.93, 5.8),
    (3.12, 6.7), (3.25, 8.1), (3.31, 9.5), (3.40, 5.8), (3.59, 3.0), (3.68, 5.8),
    (3.78, 7.2), (3.87, 9.5), (3.96, 10.9), (4.06, 13.2), (4.24, 14.1), (4.34, 15.5),
    (4.43, 12.3), (4.52, 9.9), (4.62, 8.6), (4.71, 10.4), (4.80, 13.2), (4.99, 14.6),
    (5.08, 13.7), (5.23, 11.3), (5.36, 9.0), (5.46, 7.6), (5.55, 3.9), (5.74, 11.8),
    (5.93, 10.9), (6.02, 17.8), (6.21, 17.4), (6.36, 13.7), (6.49, 11.3), (6.58, 1.6),
    (6.77, 4.8), (6.86, 9.0), (6.99, 12.7), (7.10, 17.8), (7.23, 15.5), (7.33, 12.7),
    (7.42, 8.1), (7.51, 4.8), (7.61, 1.6), (7.79, 3.9), (7.98, 7.6), (8.11, 13.2),
    (8.22, 14.1), (8.36, 10.9), (8.45, 4.8), (8.60, 2.1), (8.73, 4.4), (8.86, 8.6),
    (9.01, 10.4), (9.16, 12.3), (9.29, 11.3), (9.38, 6.2), (9.53, 2.5), (9.66, 1.6),
    (9.85, 5.3), (10.04, 6.7), (10.17, 4.4), (10.32, 2.5), (10.47, 0.2), (10.60, 1.6),
    (10.79, 3.9), (10.97, 5.3), (11.16, 6.2), (11.35, 3.0), (11.48, 0.7), (11.63, 0.2),
    (11.81, 2.5), (12.00, 3.9), (12.19, 4.8), (12.37, 4.4), (12.60, 7.6), (12.75, 4.8),
    (12.93, 1.6), (13.12, 4.8), (13.31, -1.2), (13.40, -2.1), (13.50, 2.1), (13.68, 3.9),
    (13.87, 4.8), (14.06, 3.0), (14.21, -0.7), (14.43, 5.8), (14.62, 3.9), (14.80, 3.0),
    (14.99, 7.2), (15.08, 6.2), (15.21, -2.1), (15.32, -3.0), (15.46, 1.1), (15.55, 3.9),
    (15.74, 4.8), (15.93, 6.2), (16.11, 5.3), (16.30, 3.9), (16.49, 2.1), (16.67, 1.1),
    (16.86, 4.4), (17.05, 5.8), (17.23, 4.4), (17.42, 2.5), (17.61, 1.6), (17.79, 0.2),
    (17.98, 2.1), (18.17, 3.0), (18.36, 3.9), (18.45, 8.6), (18.54, 1.1), (18.69, -0.3),
    (18.82, -2.6), (19.01, 1.1), (19.14, -4.4), (19.29, 4.4), (19.44, 5.8), (19.57, 10.4),
    (19.70, 8.6), (19.85, 5.8), (20.00, 3.9), (20.13, 1.6), (20.26, 2.5), (20.37, 9.5),
    (20.50, 1.1), (20.60, -0.7), (20.65, 7.6), (20.69, -2.1), (20.79, -2.6), (20.93, -4.9),
    (21.00, -2.1),
]

indoor_rh_d_more = [
    (1.89, 38.9), (1.98, 41.9), (2.08, 42.9), (2.17, 37.9), (2.26, 51.3), (2.36, 45.9),
    (2.45, 41.9), (2.55, 37.9), (2.64, 35.0), (2.74, 45.9), (2.83, 42.9), (2.92, 44.9),
    (3.11, 43.9), (3.30, 45.9), (3.49, 46.9), (3.68, 49.9), (3.77, 52.8), (3.87, 50.8),
    (4.06, 48.9), (4.25, 45.9), (4.43, 51.8), (4.62, 53.8), (4.81, 49.9), (5.00, 47.9),
    (5.19, 51.8), (5.38, 52.8), (5.57, 43.9), (5.75, 41.9), (5.94, 47.9), (6.13, 54.8),
    (6.23, 59.8), (6.32, 55.8), (6.51, 49.9), (6.60, 31.0), (6.70, 51.8), (6.89, 53.8),
    (7.04, 45.9), (7.17, 58.8), (7.36, 49.9), (7.45, 36.9), (7.55, 34.0), (7.68, 41.9),
    (7.83, 51.8), (7.98, 62.8), (8.11, 56.8), (8.21, 52.8), (8.40, 49.9), (8.49, 46.9),
    (8.58, 42.9), (8.68, 55.8), (8.77, 60.8), (8.96, 64.7), (9.15, 66.7), (9.34, 69.7),
    (9.43, 60.8), (9.57, 51.8), (9.68, 41.9), (9.75, 40.9), (9.87, 53.8), (9.96, 64.7),
    (10.06, 69.7), (10.19, 74.7), (10.28, 65.7), (10.38, 52.8), (10.47, 42.9), (10.53, 36.9),
    (10.60, 26.0), (10.66, 29.0), (10.75, 37.9), (10.85, 51.8), (11.04, 54.8), (11.13, 61.8),
    (11.23, 55.8), (11.32, 46.9), (11.42, 40.9), (11.51, 33.0), (11.60, 30.0), (11.70, 37.9),
    (11.79, 44.9), (11.89, 49.9), (11.98, 54.8), (12.08, 62.8), (12.17, 67.7), (12.26, 71.7),
    (12.40, 52.8), (12.45, 74.7), (12.58, 79.6), (12.70, 77.7), (12.92, 78.6), (13.11, 77.7),
    (13.21, 30.0), (13.40, 77.7), (13.45, 47.3), (13.58, 72.7), (13.68, 63.8), (13.77, 55.8),
    (13.87, 43.9), (13.96, 36.9), (14.15, 43.9), (14.34, 73.7), (14.43, 54.8), (14.53, 60.8),
    (14.66, 66.7), (14.81, 69.7), (15.00, 71.7), (15.19, 63.8), (15.28, 42.9), (15.38, 63.8),
    (15.47, 55.8), (15.60, 59.8), (15.75, 65.7), (15.94, 68.7), (16.13, 71.7), (16.28, 74.7),
    (16.42, 47.9), (16.55, 54.8), (16.70, 61.8), (16.85, 64.7), (16.98, 67.7), (17.11, 71.7),
    (17.36, 53.8), (17.49, 58.8), (17.64, 62.8), (17.79, 67.7), (17.92, 72.7), (18.02, 76.7),
    (18.21, 49.9), (18.30, 72.7), (18.40, 41.9), (18.49, 36.9), (18.58, 49.9), (18.68, 55.8),
    (18.87, 57.8), (19.06, 56.8), (19.25, 60.8), (19.43, 55.8), (19.62, 54.8), (19.75, 66.7),
    (19.87, 68.7), (19.94, 71.7), (20.06, 57.8), (20.19, 64.7), (20.28, 66.7), (20.38, 69.7),
    (20.43, 47.9), (20.51, 77.7), (20.57, 79.6), (20.75, 49.9), (20.85, 66.7), (20.94, 82.6),
    (21.04, 78.6), (21.23, 74.7), (21.42, 69.7), (21.57, 63.8), (21.75, 75.7), (21.89, 77.7),
]


def series(grid_values, extra, last_age=None):
    xs = list(age) + [p[0] for p in extra]
    ys = list(grid_values) + [p[1] for p in extra]
    if last_age is not None:
        ys = [v if a <= last_age else None for a, v in zip(xs, ys)]
    return xs, ys


# panel D outdoor RH is the same record drawn in blue in panel B;
# panel C outdoor temperature is the panel A outdoor record, logged until day 21.1
A_in = series(indoor_temp_a, indoor_temp_a_more)
A_out = series(outdoor_temp, outdoor_temp_more)
A_dt = series(delta_t_a, delta_t_a_more)
B_blue = series(rh_b_blue, rh_b_blue_more)
B_green = series(rh_b_green, rh_b_green_more)
C_in = series(indoor_temp_c, indoor_temp_c_more)
C_out = series(outdoor_temp, outdoor_temp_more, last_age=21.125)
C_dt = series(delta_t_c, delta_t_c_more)
D_in = series(indoor_rh_d, indoor_rh_d_more)
D_out = series(rh_b_blue, rh_b_blue_more)

# ---------------- styles ----------------
PAGE_W, PAGE_H = 677, 1683
BODY = 8                      # default page margin in front of the plot div
W, H = PAGE_W - BODY, PAGE_H - 2 * BODY
X0, X1 = 85, 661              # page px of x = 0 and x = 25
PANEL_PX = [(34, 390), (449, 807), (871, 1230), (1288, 1624)]

NAVY = "#000080"
GREEN = "#2E8B57"
RED = "#FF0000"
AXC = "#333333"
SANS = "Liberation Sans, Arial, sans-serif"
SERIF = "Liberation Serif, Times New Roman, serif"
GLYPH = "DejaVu Sans, sans-serif"


def px_x(x):
    return (x - BODY) / W


def px_y(y):
    return 1 - (y - BODY) / H


def mk(symbol, color, size):
    return dict(symbol=symbol, color=color, size=size, line=dict(width=0))


SQ = mk("square", NAVY, 7.5)
CI = mk("circle", GREEN, 8)
TR = mk("triangle-up", RED, 8.5)

fig = go.Figure()


def add(xy, marker, k):
    suffix = "" if k == 1 else str(k)
    fig.add_trace(go.Scatter(x=xy[0], y=xy[1], mode="markers", marker=marker,
                             xaxis="x" + suffix, yaxis="y" + suffix,
                             hoverinfo="x+y", showlegend=False))


add(A_in, SQ, 1)
add(A_out, CI, 1)
add(A_dt, TR, 1)
add(B_blue, SQ, 2)
add(B_green, CI, 2)
add(C_in, SQ, 3)
add(C_out, CI, 3)
add(C_dt, TR, 3)
add(D_in, SQ, 4)
add(D_out, CI, 4)

tickfont = dict(family=SANS, size=19, color="black")
layout = dict(
    width=W, height=H,
    margin=dict(l=0, r=0, t=0, b=0),
    paper_bgcolor="white", plot_bgcolor="white",
    showlegend=False,
)

for k, (top, bot) in enumerate(PANEL_PX, start=1):
    suffix = "" if k == 1 else str(k)
    is_temp = k in (1, 3)
    layout["xaxis" + suffix] = dict(
        domain=[px_x(X0), px_x(X1)], range=[0, 25],
        tickmode="array", tickvals=x_ticks, ticktext=x_ticklabels,
        showticklabels=(k == 4), ticks="outside", ticklen=7, tickcolor=AXC,
        tickwidth=1, showline=True, linecolor=AXC, linewidth=1.2,
        showgrid=False, zeroline=False, anchor="y" + suffix,
        tickfont=tickfont, ticklabelstandoff=4, ticklabeloverflow="allow",
        fixedrange=True,
    )
    layout["yaxis" + suffix] = dict(
        domain=[px_y(bot), px_y(top)],
        range=[-10, 40] if is_temp else [0, 100],
        tickmode="array",
        tickvals=temp_ticks if is_temp else rh_ticks,
        ticktext=temp_ticklabels if is_temp else rh_ticklabels,
        ticks="outside", ticklen=6, tickcolor=AXC, tickwidth=1,
        showline=True, linecolor=AXC, linewidth=1.2,
        showgrid=False, zeroline=False, anchor="x" + suffix,
        tickfont=tickfont, ticklabelstandoff=3, fixedrange=True,
    )

ann = []


def text(x, y, s, size=20, family=SANS, color="black", xanchor="center",
         textangle=0):
    ann.append(dict(x=px_x(x), y=px_y(y), xref="paper", yref="paper", text=s,
                    showarrow=False, xanchor=xanchor, yanchor="middle",
                    textangle=textangle,
                    font=dict(family=family, size=size, color=color)))


# panel letters
for lab, (lx, ly) in zip(["A.", "B.", "C.", "D."],
                         [(24, 21), (23, 435), (23, 857), (23, 1277)]):
    text(lx, ly, lab, size=22, family=SERIF)

# axis titles
temp_title = "Temperature (\u00b0C)"
rh_title = "Relative humidity (%)"
for (top, bot), title in zip(PANEL_PX, [temp_title, rh_title, temp_title, rh_title]):
    text(20, (top + bot) / 2, title, size=20, textangle=-90)
text((X0 + X1) / 2, 1668, "Age (d)", size=20)

SQ_G, CI_G, TR_G = "\u25A0", "\u25CF", "\u25B2"

# legend A (symbol before text)
yA = 371
text(132, yA, SQ_G, size=11, family=GLYPH, color=NAVY)
text(143, yA, "Indoor temp.", xanchor="left")
text(316, yA, CI_G, size=13, family=GLYPH, color=GREEN)
text(327, yA, "Outdoor temp.", xanchor="left")
text(546, yA, TR_G, size=11, family=GLYPH, color=RED)
text(558, yA, "Delta T", xanchor="left")

# legend B (text before symbol)
yB = 788
text(351, yB, "Indoor RH", xanchor="right")
text(361, yB, SQ_G, size=11, family=GLYPH, color=NAVY)
text(494, yB, "Outdoor RH", xanchor="right")
text(504, yB, CI_G, size=13, family=GLYPH, color=GREEN)

# legend C
yC = 878
text(255, yC, "Indoor temp.", xanchor="right")
text(270, yC, SQ_G, size=11, family=GLYPH, color=NAVY)
text(441, yC, "Outdoor temp.", xanchor="right")
text(455, yC, CI_G, size=13, family=GLYPH, color=GREEN)
text(625, yC, "Delta T", xanchor="right")
text(643, yC, TR_G, size=11, family=GLYPH, color=RED)

# legend D
yD = 1606
text(214, yD, "Indoor RH", xanchor="right")
text(224, yD, SQ_G, size=11, family=GLYPH, color=NAVY)
text(355, yD, "Outdoor RH", xanchor="right")
text(367, yD, CI_G, size=13, family=GLYPH, color=GREEN)

layout["annotations"] = ann
fig.update_layout(**layout)

fig.write_html("out.html")
